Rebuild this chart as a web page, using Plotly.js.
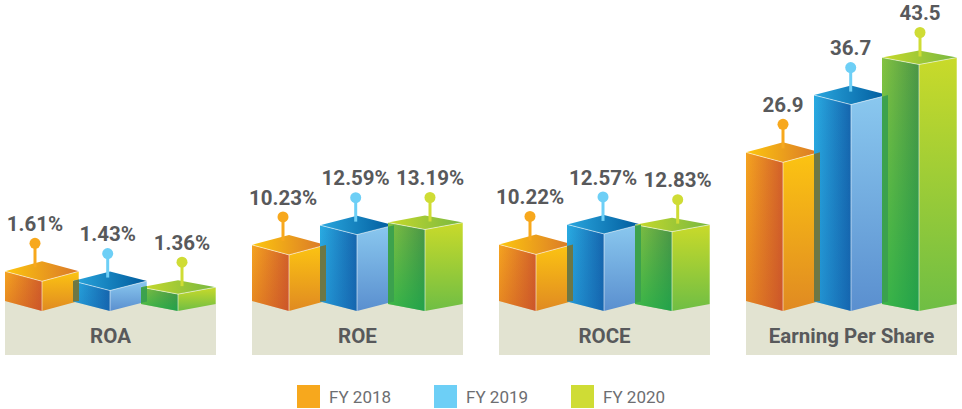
<!DOCTYPE html>
<html>
<head>
<meta charset="utf-8">
<script src="https://cdn.plot.ly/plotly-3.0.1.min.js"></script>
<style>html,body{margin:0;padding:0;background:#fff}#chart{width:962px;height:409px}</style>
</head>
<body>
<div id="chart"></div>
<script>
// ---- data ----
const categories = ['ROA', 'ROE', 'ROCE', 'Earning Per Share'];
const fiscalYears = ['FY 2018', 'FY 2019', 'FY 2020'];
const roaValues = [1.61, 1.43, 1.36];
const roeValues = [10.23, 12.59, 13.19];
const roceValues = [10.22, 12.57, 12.83];
const epsValues = [26.9, 36.7, 43.5];

// ---- axes: each panel has its own truncated linear y axis ----
const W = 962, H = 409, BASE_PX = 311;
const panelSeries = [roaValues, roeValues, roceValues, epsValues];
const panelSuffix = ['%', '%', '%', ''];
const panelDigits = [2, 2, 2, 1];
const panelLeft = [5, 252, 499, 746];
const panelWidth = 211;
const axisBase = [1.032, 3.69, 3.73, 1.68];
const pxPerUnit = [51.4, 8.58, 8.72, 5.894];

// ---- bar geometry / styling in panel units ----
const barLeft = [0, 68, 136];
const barFront = [37, 105, 173];
const barRight = [74, 142, 211];
const barDepth = [10, 9.5, 7];
const pinX = [[30, 102.7, 177], [31, 103.7, 178], [31, 104, 178.7], [37, 104.7, 174]];
const pinLift = 18;
const labelLift = 17.5;
const swatch = ['#f7a81d', '#6dcff6', '#cfdc35'];
const stripFill = ['rgba(112,118,62,0.96)', 'rgba(58,160,78,0.96)'];
const leftFace = [['#f5a41f', '#d2602a'], ['#29abe2', '#1565ad'], ['#84c341', '#4c9546']];
const leftShade = [['rgba(190,60,40,0.30)', 'rgba(190,60,40,0)'], ['rgba(20,100,180,0.25)', 'rgba(20,100,180,0)'], ['rgba(0,172,78,0.55)', 'rgba(0,172,78,0)']];
const rightFace = [['#e08a22', '#fcc412'], ['#5a8fcf', '#8ac8ef'], ['#6fbe44', '#c9da2a']];
const topFace = [['#fdc70e', '#d9762a'], ['#2aa7de', '#005a9c'], ['#c9da2a', '#76b742']];
const textFont = 'Roboto, Arial, sans-serif';
const textGrey = '#58595b';
const panelFill = '#e2e3d1';

const traces = [];
const annotations = [];
const layout = {
  width: W, height: H, autosize: false,
  margin: {l: 0, r: 0, t: 0, b: 0, pad: 0},
  paper_bgcolor: '#fff', plot_bgcolor: 'rgba(0,0,0,0)',
  showlegend: false, annotations: annotations
};
function grad(type, cols) {
  return {type: type, colorscale: [[0, cols[0]], [1, cols[1]]]};
}
function poly(ax, xs, ys, style) {
  traces.push(Object.assign({
    type: 'scatter', mode: 'none', x: xs.concat(xs[0]), y: ys.concat(ys[0]),
    fill: 'toself', hoverinfo: 'skip', xaxis: ax.x, yaxis: ax.y, showlegend: false
  }, style));
}

categories.forEach(function (cat, p) {
  const n = p === 0 ? '' : String(p + 1);
  const ax = {x: 'x' + n, y: 'y' + n};
  const k = pxPerUnit[p], base = axisBase[p], vals = panelSeries[p];
  layout['xaxis' + n] = {
    domain: [panelLeft[p] / W, (panelLeft[p] + panelWidth) / W], range: [0, panelWidth],
    visible: false, fixedrange: true, anchor: ax.y
  };
  layout['yaxis' + n] = {
    domain: [0, 1], range: [base + (BASE_PX - H) / k, base + BASE_PX / k],
    visible: false, fixedrange: true, anchor: ax.x
  };
  // panel band
  const bandTop = base + 11 / k, bandBottom = base - 44 / k;
  poly(ax, [0, panelWidth, panelWidth, 0], [bandTop, bandTop, bandBottom, bandBottom], {fillcolor: panelFill});
  traces.push({
    type: 'scatter', mode: 'text', x: [panelWidth / 2], y: [base - 27 / k], text: ['<b>' + cat + '</b>'],
    textposition: 'middle center', textfont: {family: textFont, size: 20.5, color: textGrey},
    hoverinfo: 'skip', cliponaxis: false, xaxis: ax.x, yaxis: ax.y, showlegend: false
  });

  // bars
  vals.forEach(function (v, s) {
    const l = barLeft[s], f = barFront[s], r = barRight[s], dp = barDepth[s] / k;
    poly(ax, [l, f, f, l], [v + dp, v, base, base + dp], {fillcolor: leftFace[s][0], fillgradient: grad('horizontal', leftFace[s])});
    poly(ax, [l, f, f, l], [v + dp, v, base, base + dp], {fillcolor: 'rgba(0,0,0,0)', fillgradient: grad('vertical', leftShade[s])});
    poly(ax, [f, r, r, f], [v, v + dp, base + dp, base], {fillcolor: rightFace[s][0], fillgradient: grad('vertical', rightFace[s])});
    poly(ax, [l, f, r, f], [v + dp, v, v + dp, v + 2 * dp], {fillcolor: topFace[s][0], fillgradient: grad('horizontal', topFace[s])});
    traces.push({
      type: 'scatter', mode: 'lines',
      x: [l, f, r, null, f, f, null, r, r],
      y: [v + dp, v, v + dp, null, v, base, null, v + dp, base + dp],
      line: {color: 'rgba(255,255,255,0.55)', width: 1},
      hoverinfo: 'skip', xaxis: ax.x, yaxis: ax.y, showlegend: false
    });
  });

  // translucent overlap where each bar's right face meets the next bar
  for (let s = 0; s < 2; s++) {
    const v = vals[s], nv = vals[s + 1], dp = barDepth[s] / k, ndp = barDepth[s + 1] / k;
    const nl = barLeft[s + 1], r = barRight[s], f = barFront[s], nf = barFront[s + 1];
    const t = (nl - f) / (r - f), u = (r - nl) / (nf - nl);
    const topL = Math.min(v + dp * t, nv + ndp);
    const topR = Math.min(v + dp, nv + ndp + ndp * u);
    const botL = Math.max(base + dp * t, base + ndp);
    const botR = Math.max(base + dp, base + ndp * (1 - u));
    poly(ax, [nl, r, r, nl], [topL, topR, botR, botL], {fillcolor: stripFill[s]});
  }

  // pins and value labels
  vals.forEach(function (v, s) {
    const dp = barDepth[s] / k, head = v + 2 * dp + pinLift / k;
    traces.push({
      type: 'scatter', mode: 'lines', x: [pinX[p][s], pinX[p][s]], y: [v + 2 * dp - 6 / k, head],
      line: {color: swatch[s], width: 3}, hoverinfo: 'skip', cliponaxis: false,
      xaxis: ax.x, yaxis: ax.y, showlegend: false
    });
    traces.push({
      type: 'scatter', mode: 'markers', x: [pinX[p][s]], y: [head],
      marker: {color: swatch[s], size: 11, line: {width: 0}},
      hoverinfo: 'skip', cliponaxis: false, xaxis: ax.x, yaxis: ax.y, showlegend: false
    });
    traces.push({
      type: 'scatter', mode: 'text', x: [pinX[p][s]], y: [head + labelLift / k],
      text: ['<b>' + v.toFixed(panelDigits[p]) + panelSuffix[p] + '</b>'],
      textposition: 'middle center', textfont: {family: textFont, size: 20.5, color: textGrey},
      hoverinfo: 'skip', cliponaxis: false, xaxis: ax.x, yaxis: ax.y, showlegend: false
    });
  });
});

// legend row
layout.xaxis5 = {domain: [308.5 / W, (308.5 + 411) / W], range: [0, 3], visible: false, fixedrange: true, anchor: 'y5'};
layout.yaxis5 = {domain: [1 / H, 24 / H], range: [0, 1], visible: false, fixedrange: true, anchor: 'x5'};
traces.push({
  type: 'scatter', mode: 'markers', x: [0, 1, 2], y: [0.5, 0.5, 0.5],
  marker: {symbol: 'square', size: 23, color: swatch, line: {width: 0}},
  hoverinfo: 'skip', cliponaxis: false, xaxis: 'x5', yaxis: 'y5', showlegend: false
});
fiscalYears.forEach(function (name, i) {
  annotations.push({
    xref: 'x5', yref: 'y5', x: i, y: 0.5, xshift: 18, xanchor: 'left', yanchor: 'middle', showarrow: false,
    text: name, font: {family: textFont, size: 17, color: '#6d6e71'}
  });
});

Plotly.newPlot('chart', traces, layout, {staticPlot: true, displayModeBar: false, responsive: false});
</script>
</body>
</html>
